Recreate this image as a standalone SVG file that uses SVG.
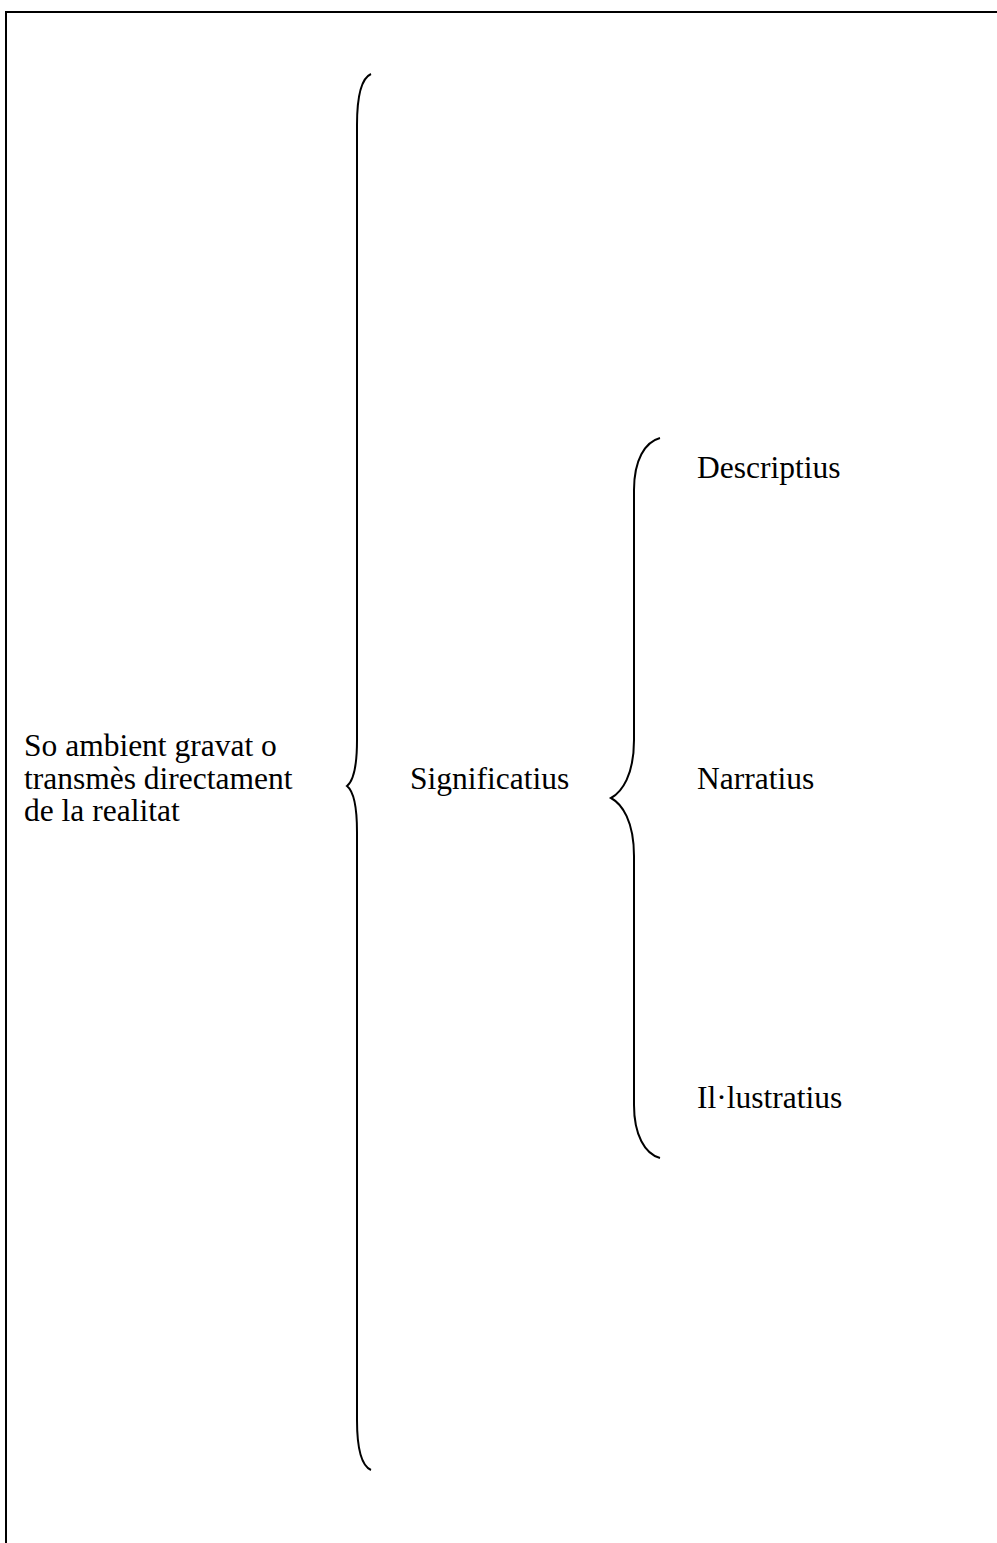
<svg xmlns="http://www.w3.org/2000/svg" width="997" height="1543" viewBox="0 0 997 1543">
  <style>
    .t { font-family: "Liberation Serif", "Times New Roman", Tinos, "DejaVu Serif", serif; font-size: 31.5px; fill: #000; }
    .br { fill: none; stroke: #000; stroke-width: 2; }
    .frame { fill: none; stroke: #000; stroke-width: 2; }
  </style>
  <rect width="997" height="1543" fill="#fff"/>
  <!-- page frame: top and left edges -->
  <path class="frame" d="M6,1543 V12 H997"/>
  <g id="connectors">
    <!-- outer brace -->
    <path id="brace-outer" class="br" d="M371,74 C362,78 357,95 357,125 V740 C357,770 352,782 347,786 C352,790 357,802 357,832 V1420 C357,1450 362,1466 371,1470"/>
    <!-- inner brace -->
    <path id="brace-inner" class="br" d="M660,438 C645,442 634,460 634,490 V740 C634,775 622,792 611,798 C622,804 634,821 634,856 V1105 C634,1135 645,1154 660,1158"/>
  </g>
  <g id="node-root">
    <text class="t" x="24" y="756">So ambient gravat o</text>
    <text class="t" x="24" y="789">transmès directament</text>
    <text class="t" x="24" y="821">de la realitat</text>
  </g>
  <g id="node-significatius">
    <text class="t" x="410" y="789">Significatius</text>
  </g>
  <g id="node-descriptius">
    <text class="t" x="697" y="478">Descriptius</text>
  </g>
  <g id="node-narratius">
    <text class="t" x="697" y="789">Narratius</text>
  </g>
  <g id="node-illustratius">
    <text class="t" x="697" y="1108">Il·lustratius</text>
  </g>
</svg>
